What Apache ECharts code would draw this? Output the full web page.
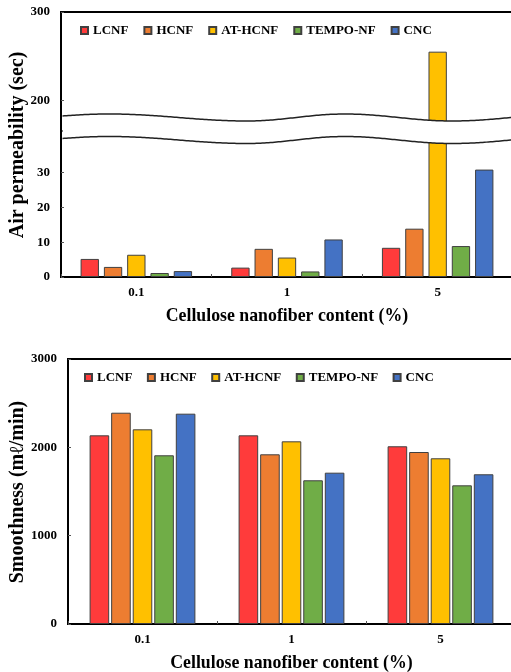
<!DOCTYPE html>
<html>
<head>
<meta charset="utf-8">
<script src="https://cdn.jsdelivr.net/npm/echarts@6/dist/echarts.min.js"></script>
<style>
  html, body { margin: 0; padding: 0; background: #fff; }
  #chart { width: 511px; height: 672px; }
</style>
</head>
<body>
<div id="chart"></div>
<script>
var myChart = echarts.init(document.getElementById('chart'));

var categories = ['0.1', '1', '5'];
var names = ['LCNF', 'HCNF', 'AT-HCNF', 'TEMPO-NF', 'CNC'];
var colors = ['#ff3b3b', '#ed7d31', '#ffc000', '#70ad47', '#4472c4'];

// air permeability (sec)
var airLCNF = [5.2, 2.7, 8.4];
var airHCNF = [2.9, 8.1, 13.9];
var airATHCNF = [6.4, 5.6, 255];
var airTEMPO = [1.15, 1.6, 8.9];
var airCNC = [1.7, 10.8, 30.9];
var airTicksLow = [0, 10, 20, 30];
var airTicksHigh = [200, 300];

// smoothness (ml/min)
var smLCNF = [2136, 2136, 2012];
var smHCNF = [2392, 1921, 1947];
var smATHCNF = [2204, 2068, 1876];
var smTEMPO = [1910, 1627, 1570];
var smCNC = [2381, 1713, 1695];
var smTicks = [0, 1000, 2000, 3000];

var airData = [airLCNF, airHCNF, airATHCNF, airTEMPO, airCNC];
var smData = [smLCNF, smHCNF, smATHCNF, smTEMPO, smCNC];

var font = 'Liberation Serif';
var labelStyle = { color: '#000', fontFamily: font, fontWeight: 'bold', fontSize: 13 };
var titleStyle = { color: '#000', fontFamily: font, fontWeight: 'bold', fontSize: 17.8 };
var plain = function (v) { return String(v); };

// break marks: wave extremes [x, y] of the upper line
var waveKeys = [[-25, 121], [110, 114], [247, 121], [345, 114], [452, 121], [570, 114]];
var waveOffset = 22.5;
function waveY(x) {
	for (var i = 0; i < waveKeys.length - 1; i++) {
		var a = waveKeys[i], b = waveKeys[i + 1];
		if (x >= a[0] && x <= b[0]) {
			var t = (x - a[0]) / (b[0] - a[0]);
			return a[1] + (b[1] - a[1]) * (1 - Math.cos(Math.PI * t)) / 2;
		}
	}
	return 117.5;
}
var upperPts = [], lowerPts = [];
for (var x = 62.5; x <= 514; x += 2) {
	upperPts.push([x, waveY(x)]);
	lowerPts.push([x, waveY(x) + waveOffset]);
}
var fillPts = upperPts.concat(lowerPts.slice().reverse());

var series = [];
names.forEach(function (n, i) {
	var itemStyle = { color: colors[i], borderColor: '#404040', borderWidth: 1 };
	// top chart, upper part of broken axis
	series.push({
		name: n, type: 'bar', xAxisIndex: 0, yAxisIndex: 0, clip: true,
		barCategoryGap: '26%', barGap: '27%', itemStyle: itemStyle, data: airData[i]
	});
	// top chart, lower part
	series.push({
		name: n, type: 'bar', xAxisIndex: 1, yAxisIndex: 1, clip: true,
		barCategoryGap: '26%', barGap: '27%', itemStyle: itemStyle, data: airData[i]
	});
	// bottom chart
	series.push({
		name: n, type: 'bar', xAxisIndex: 2, yAxisIndex: 2, clip: true,
		barCategoryGap: '29%', barGap: '10%', itemStyle: itemStyle, data: smData[i]
	});
});

var gridBase = {
	show: true, borderColor: '#000', borderWidth: 2, backgroundColor: 'transparent',
	outerBoundsMode: 'none', containLabel: false
};

var option = {
	backgroundColor: '#fff',
	animation: false,
	legend: [{
		data: names, left: 75, top: 19, itemWidth: 7, itemHeight: 7, itemGap: 15,
		icon: 'rect', textStyle: labelStyle
	}, {
		data: names, left: 79, top: 366, itemWidth: 7, itemHeight: 7, itemGap: 14.5,
		icon: 'rect', textStyle: labelStyle
	}],
	grid: [
		Object.assign({ left: 61, width: 452, top: 12, height: 119 }, gridBase),
		Object.assign({ left: 61, width: 452, top: 131, height: 146 }, gridBase),
		Object.assign({ left: 68, width: 447, top: 359, height: 265 }, gridBase)
	],
	xAxis: [{
		type: 'category', gridIndex: 0, data: categories, position: 'top',
		axisLine: { show: false }, axisTick: { show: false }, axisLabel: { show: false }
	}, {
		type: 'category', gridIndex: 1, data: categories,
		axisLine: { show: false },
		axisTick: { show: true, inside: true, length: 3, lineStyle: { color: '#555' } },
		axisLabel: Object.assign({ margin: 9 }, labelStyle),
		name: 'Cellulose nanofiber content (%)', nameLocation: 'middle', nameGap: 30,
		nameTextStyle: titleStyle
	}, {
		type: 'category', gridIndex: 2, data: categories,
		axisLine: { show: false },
		axisTick: { show: true, inside: true, length: 3, lineStyle: { color: '#555' } },
		axisLabel: Object.assign({ margin: 9 }, labelStyle),
		name: 'Cellulose nanofiber content (%)', nameLocation: 'middle', nameGap: 30,
		nameTextStyle: titleStyle
	}],
	yAxis: [{
		type: 'value', gridIndex: 0, min: 165, max: 300,
		splitLine: { show: false }, axisLine: { show: false },
		axisTick: { show: true, inside: true, length: 3, customValues: airTicksHigh, lineStyle: { color: '#555' } },
		axisLabel: Object.assign({ margin: 11, customValues: airTicksHigh, formatter: plain }, labelStyle)
	}, {
		type: 'value', gridIndex: 1, min: 0, max: 42,
		splitLine: { show: false }, axisLine: { show: false },
		axisTick: { show: true, inside: true, length: 3, customValues: airTicksLow, lineStyle: { color: '#555' } },
		axisLabel: Object.assign({ margin: 11, customValues: airTicksLow, formatter: plain }, labelStyle)
	}, {
		type: 'value', gridIndex: 2, min: 0, max: 3000, interval: 1000,
		splitLine: { show: false }, axisLine: { show: false },
		axisTick: { show: true, inside: true, length: 3, customValues: smTicks, lineStyle: { color: '#555' } },
		axisLabel: Object.assign({ margin: 11, customValues: smTicks, formatter: plain }, labelStyle)
	}],
	graphic: [{
		type: 'polygon', z: 100, shape: { points: fillPts },
		style: { fill: '#fff', stroke: null }
	}, {
		type: 'polyline', z: 101, shape: { points: upperPts },
		style: { fill: null, stroke: '#222', lineWidth: 1.5 }
	}, {
		type: 'polyline', z: 101, shape: { points: lowerPts },
		style: { fill: null, stroke: '#222', lineWidth: 1.5 }
	}, {
		type: 'text', x: 18, y: 145, rotation: Math.PI / 2, z: 101,
		style: {
			text: 'Air permeability (sec)', fill: '#000', font: 'bold 20px "Liberation Serif"',
			align: 'center', verticalAlign: 'middle'
		}
	}, {
		type: 'text', x: 18, y: 492, rotation: Math.PI / 2, z: 101,
		style: {
			text: 'Smoothness (mℓ/min)', fill: '#000', font: 'bold 20px "Liberation Serif"',
			align: 'center', verticalAlign: 'middle'
		}
	}],
	series: series
};

myChart.setOption(option);
</script>
</body>
</html>
